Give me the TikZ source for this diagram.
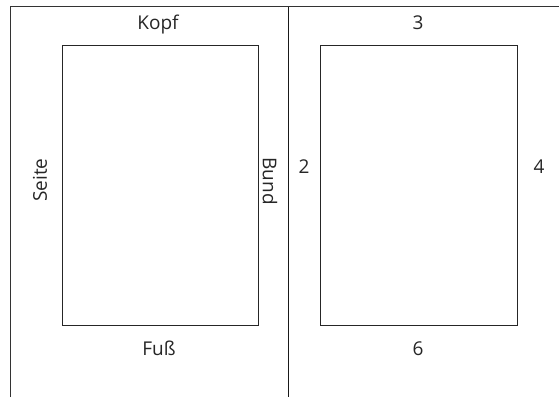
\documentclass[tikz,border=0pt]{standalone}
\usepackage{fontspec}
\setmainfont{Open Sans}
\begin{document}
\begin{tikzpicture}[x=1pt,y=-1pt,
  frame/.style={draw=black!80, line width=0.9pt},
  page/.style={draw=black!85, line width=0.8pt},
  lbl/.style={font=\fontsize{19}{21}\selectfont, text=black!85, inner sep=0pt}]
\useasboundingbox (0,0) rectangle (559,397);
% sheet edges and fold
\coordinate (tl) at (10.5,6.5);
\coordinate (tr) at (559,6.5);
\coordinate (bl) at (10.5,397);
\coordinate (ft) at (288.5,6.5);
\coordinate (fb) at (288.5,397);
\draw[frame] (bl) -- (tl) -- (tr);
\draw[draw=black!90, line width=1.1pt] (ft) -- (fb);
% type areas
\node[page, minimum width=196.5pt, minimum height=279.5pt, inner sep=0pt, anchor=north west] (lp) at (61.5,45) {};
\node[page, minimum width=196.5pt, minimum height=279.5pt, inner sep=0pt, anchor=north west] (rp) at (320,45) {};
% margin labels
\node[lbl, anchor=base] (kopf) at (158,29.5) {Kopf};
\node[lbl, anchor=base] (fuss) at (159,355) {Fuß};
\node[lbl, rotate=90] (seite) at (40,180) {Seite};
\node[lbl, rotate=-90] (bund) at (270,181) {Bund};
\node[lbl, anchor=base] (n2) at (304,173) {2};
\node[lbl, anchor=base] (n3) at (418,29.5) {3};
\node[lbl, anchor=base] (n4) at (539,173) {4};
\node[lbl, anchor=base] (n6) at (418,355) {6};
\end{tikzpicture}
\end{document}
